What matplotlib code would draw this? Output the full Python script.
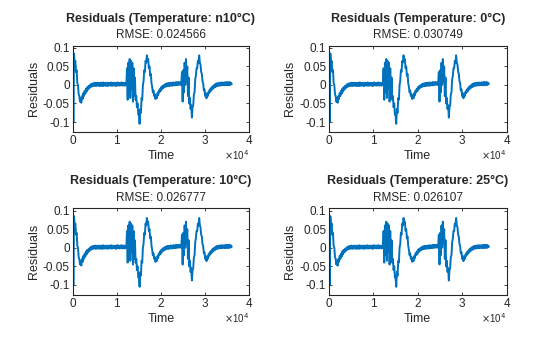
import matplotlib
matplotlib.use("Agg")
import matplotlib.pyplot as plt
import numpy as np
from matplotlib.ticker import FuncFormatter

plt.rcParams['font.family'] = ['Liberation Sans', 'DejaVu Sans']

temperatures = ["n10", "0", "10", "25"]
rmse_values = [0.024566, 0.030749, 0.026777, 0.026107]

# sample step in thousands of seconds; residuals
time_step_k = 0.15
residual = [
    0.1, -0.1, 0.085, 0.055, 0.065, 0.035, 0.04, 0.005, 0.0, -0.025,
    -0.03, -0.045, -0.035, -0.048, -0.03, -0.038, -0.022, -0.03, -0.016, -0.024,
    -0.01, -0.018, -0.006, -0.013, -0.003, -0.009, 0.0, -0.006, 0.003, -0.004,
    0.004, -0.003, 0.005, -0.002, 0.006, -0.003, 0.005, -0.002, 0.006, -0.002,
    0.005, -0.003, 0.006, -0.002, 0.005, -0.003, 0.007, -0.002, 0.005, -0.002,
    0.006, -0.002, 0.005, -0.003, 0.006, -0.001, 0.005, -0.002, 0.007, -0.002,
    0.005, -0.002, 0.006, -0.001, 0.005, -0.003, 0.006, -0.002, 0.007, -0.001,
    0.005, -0.002, 0.006, -0.001, 0.007, -0.002, 0.005, -0.001, 0.006, -0.002,
    0.005, 0.0, 0.045, -0.04, 0.06, -0.02, 0.07, -0.035, 0.065, -0.01,
    0.06, -0.045, 0.045, -0.03, 0.02, -0.04, -0.03, -0.06, -0.05, -0.08,
    -0.08, -0.105, -0.065, -0.075, -0.035, -0.04, 0.0, 0.01, 0.04, 0.035,
    0.065, 0.06, 0.08, 0.065, 0.07, 0.045, 0.05, 0.025, 0.03, 0.005,
    -0.005, -0.02, -0.015, -0.03, -0.025, -0.038, -0.03, -0.036, -0.022, -0.028,
    -0.015, -0.02, -0.01, -0.016, -0.005, -0.011, -0.002, -0.008, 0.0, -0.006,
    0.003, -0.004, 0.004, -0.003, 0.005, -0.003, 0.005, -0.002, 0.006, -0.002,
    0.006, -0.002, 0.007, -0.001, 0.006, -0.001, 0.008, 0.0, 0.007, 0.0,
    0.008, 0.001, 0.007, 0.0, 0.005, 0.035, -0.045, 0.04, -0.02, 0.06,
    0.0, 0.07, 0.01, 0.05, -0.03, 0.02, -0.05, -0.035, -0.065, -0.055,
    -0.088, -0.06, -0.055, -0.025, -0.02, 0.015, 0.025, 0.045, 0.045, 0.065,
    0.06, 0.08, 0.06, 0.055, 0.035, 0.03, 0.01, 0.005, -0.015, -0.012,
    -0.03, -0.022, -0.036, -0.025, -0.03, -0.018, -0.022, -0.012, -0.018, -0.008,
    -0.013, -0.004, -0.01, -0.001, -0.007, 0.002, -0.005, 0.004, -0.003, 0.005,
    -0.002, 0.006, -0.002, 0.006, -0.001, 0.007, -0.001, 0.006, 0.0, 0.007,
    -0.001, 0.007, 0.0, 0.008, -0.001, 0.007, 0.0, 0.008, 0.0, 0.006,
    0.003,
]
time_k = np.arange(len(residual)) * time_step_k

x_ticks = [0, 1, 2, 3, 4]
y_ticks = [-0.1, -0.05, 0, 0.05, 0.1]

line_color = "#0072BD"
axis_color = "#262626"

fig = plt.figure(figsize=(5.6, 3.37), dpi=100)
positions = [
    [0.1298, 0.6083, 0.3154, 0.2561],
    [0.5875, 0.6083, 0.3170, 0.2561],
    [0.1298, 0.1246, 0.3154, 0.2573],
    [0.5875, 0.1246, 0.3170, 0.2573],
]

xs = time_k / 10.0


def yfmt(v, pos):
    return "%g" % round(v, 4)


for i, pos in enumerate(positions):
    ax = fig.add_axes(pos)
    ax.plot(xs, residual, color=line_color, linewidth=1.4)
    ax.set_xlim(0, 4)
    ax.set_ylim(-0.127, 0.106)
    ax.set_xticks(x_ticks)
    ax.set_yticks(y_ticks)
    ax.yaxis.set_major_formatter(FuncFormatter(yfmt))
    ax.tick_params(direction="in", top=True, right=True, length=2.5,
                   width=0.6, colors=axis_color, labelsize=8.5, pad=2)
    for sp in ax.spines.values():
        sp.set_color(axis_color)
        sp.set_linewidth(0.8)
    ax.set_xlabel("Time", fontsize=9, color=axis_color, labelpad=2)
    ax.set_ylabel("Residuals", fontsize=9, color=axis_color, labelpad=2)
    ax.text(0.5, 1.124, "RMSE: %.6f" % rmse_values[i], transform=ax.transAxes,
            ha="center", va="center", fontsize=8.5, color=axis_color)
    ax.text(0.5, 1.31, "Residuals (Temperature: %s°C)" % temperatures[i],
            transform=ax.transAxes, ha="center", va="center",
            fontsize=9, fontweight="bold", color=axis_color)
    ax.text(1.0, -0.27, r"$\times$10$^4$", transform=ax.transAxes,
            ha="right", va="center", fontsize=7, color=axis_color)

fig.savefig("out.png", dpi=100, facecolor="white")
